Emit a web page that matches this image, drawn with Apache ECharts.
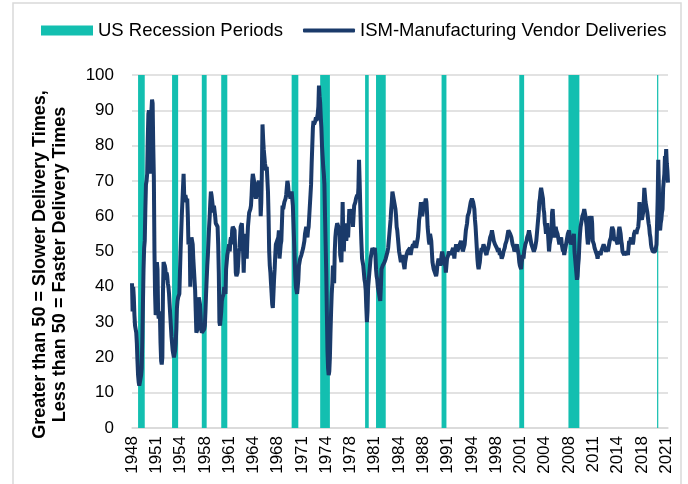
<!DOCTYPE html>
<html>
<head>
<meta charset="utf-8">
<script src="https://cdn.jsdelivr.net/npm/echarts@6/dist/echarts.min.js"></script>
<style>
  html, body { margin: 0; padding: 0; background: #fff; }
  #chart { width: 688px; height: 484px; }
</style>
</head>
<body>
<div id="chart"></div>
<script>
// ISM manufacturing supplier (vendor) deliveries index, monthly from Jan 1948
var startYear = 1948;

var ism1948to1959 = [
  41, 33, 40, 37, 32, 29, 28, 27, 24, 19, 15, 13,
  12, 12.5, 14, 15, 17, 25, 35, 45, 51, 53, 62, 69,
  70, 72, 82, 89, 90, 88, 72, 85, 90, 93, 92, 80,
  71, 50, 38, 32, 33, 47, 45, 33, 31, 33, 32, 24,
  19, 18, 20, 38, 47, 47, 46, 45, 42, 44, 43, 41,
  40, 38, 35, 32, 29, 26, 24, 22, 21, 20, 20, 22,
  24, 28, 34, 36, 37, 37, 38, 44, 50, 55, 60, 64,
  68, 72, 66, 64, 66, 65, 64, 65, 60, 52, 53, 54,
  40, 52, 54, 53, 52, 48, 45, 42, 39, 33, 27, 27,
  28, 30, 37, 36, 35, 32, 28, 27, 27, 27, 27, 28,
  29, 33, 38, 42, 46, 49, 53, 57, 60, 64, 67, 66,
  66, 63, 61, 63, 63, 60, 58, 58, 58, 57, 52, 44
];
var ism1960s = [
  30, 29, 29, 33, 36, 37, 37, 38, 40, 40, 38, 45,
  47, 49, 50, 51, 52, 50, 53, 54, 52, 56, 57, 57,
  57, 56, 50, 44, 43, 43, 44, 47, 50, 51, 54, 57,
  57, 58, 58, 50, 44, 50, 54, 55, 52, 48, 53, 57,
  59, 61, 61, 62, 63, 66, 70, 72, 71, 70, 68, 66,
  65, 65, 67, 69, 69, 70, 70, 68, 60, 64, 73, 86,
  82, 79, 77, 75, 74, 73, 74, 74, 67, 60, 50, 46,
  44, 41, 38, 35, 34, 38, 42, 45, 49, 52, 52, 53,
  53, 54, 56, 48, 50, 52, 53, 58, 63, 62, 63, 64,
  64, 65, 66, 68, 70, 69, 67, 67, 66, 65, 65, 67
];
var ism1970s = [
  67, 63, 58, 53, 48, 43, 40, 39, 38, 38, 42, 46,
  47, 48, 48, 49, 49, 49, 51, 52, 53, 55, 56, 57,
  55, 54, 56, 57, 60, 63, 66, 69, 75, 80, 85, 87,
  86, 86, 87, 88, 87, 87, 89, 91, 97, 94, 92, 88,
  85, 80, 77, 74, 72, 69, 60, 52, 44, 33, 22, 17,
  15, 16, 20, 27, 33, 38, 41, 46, 44, 41, 50, 54,
  56, 57, 58, 58, 57, 56, 55, 49, 48, 47, 55, 64,
  55, 50, 56, 58, 55, 53, 55, 56, 54, 58, 62, 60,
  60, 61, 62, 60, 57, 60, 63, 63, 64, 65, 65, 66,
  65, 68, 76, 70, 63, 57, 52, 48, 47, 46, 44, 42
];
var ism1980s = [
  41, 39, 34, 30, 33, 40, 42, 44, 46, 48, 49, 50,
  51, 51, 50, 50, 51, 49, 45, 43, 42, 40, 39, 38,
  37, 36, 40, 45, 45, 46, 46, 46, 47, 47, 48, 48,
  48, 50, 51, 53, 55, 57, 59, 62, 64, 67, 66, 65,
  64, 64, 62, 60, 57, 56, 56, 52, 50, 49, 48, 47,
  48, 49, 48, 47, 46, 45, 47, 48, 49, 49, 50, 50,
  50, 50, 51, 49, 50, 51, 51, 52, 51, 52, 53, 52,
  51, 52, 53, 54, 56, 59, 60, 62, 64, 62, 60, 61,
  63, 64, 63, 64, 65, 64, 61, 57, 55, 53, 52, 55,
  54, 53, 50, 47, 46, 45, 45, 44, 44, 43, 44, 46
];
var ism1990s = [
  47, 48, 48, 47, 46, 47, 49, 50, 50, 48, 47, 47,
  46, 44, 46, 48, 48, 49, 50, 50, 49, 50, 49, 50,
  50, 51, 50, 48, 50, 51, 52, 51, 50, 50, 51, 51,
  52, 52, 53, 52, 51, 50, 50, 50, 52, 54, 56, 57,
  58, 60, 60, 61, 62, 63, 64, 64, 65, 65, 64, 63,
  62, 59, 57, 54, 51, 48, 46, 45, 46, 47, 49, 50,
  51, 50, 51, 52, 52, 51, 50, 50, 49, 50, 50, 51,
  52, 53, 54, 54, 55, 56, 55, 54, 53, 53, 52, 52,
  52, 51, 51, 50, 51, 50, 49, 50, 49, 48, 48, 49,
  50, 50, 51, 52, 52, 53, 54, 55, 56, 56, 56, 55
];
var ism2000s = [
  55, 54, 53, 52, 52, 51, 50, 50, 51, 51, 52, 52,
  50, 49, 47, 46, 46, 45, 47, 47, 49, 48, 50, 51,
  52, 52, 53, 54, 54, 55, 56, 55, 54, 53, 52, 52,
  51, 51, 50, 50, 51, 52, 53, 55, 57, 59, 61, 64,
  65, 67, 68, 67, 66, 65, 62, 61, 58, 57, 55, 57,
  58, 56, 53, 50, 52, 53, 54, 55, 61, 62, 59, 56,
  54, 55, 57, 56, 56, 55, 54, 53, 52, 53, 53, 54,
  52, 51, 50, 51, 49, 50, 51, 52, 53, 54, 55, 55,
  56, 54, 53, 52, 53, 53, 52, 54, 55, 50, 48, 46,
  44, 42, 43, 46, 48, 52, 55, 57, 58, 59, 60, 60
];
var ism2010s = [
  61, 62, 61, 60, 60, 57, 54, 52, 53, 56, 60, 58,
  59, 60, 58, 53, 53, 52, 51, 51, 50, 50, 49, 48,
  49, 50, 50, 50, 49, 50, 50, 51, 51, 52, 52, 51,
  51, 50, 50, 51, 50, 51, 52, 53, 53, 54, 56, 57,
  57, 56, 54, 53, 54, 54, 53, 53, 52, 54, 56, 57,
  56, 55, 53, 52, 50, 50, 50, 49, 50, 50, 50, 49,
  50, 49, 51, 53, 52, 53, 54, 52, 53, 52, 53, 55,
  55, 56, 56, 55, 56, 56, 57, 59, 64, 61, 60, 60,
  59, 59, 61, 64, 68, 66, 64, 63, 62, 61, 61, 58,
  57, 55, 54, 52, 51, 51, 50, 50, 50, 50, 50, 51
];
var ism2020s = [
  52, 58, 65, 76, 68, 57, 56, 58, 59, 61, 62, 68,
  68, 72, 77, 75, 79, 75, 73, 69.5
];

var recessions = [
  ['1948-11', '1949-10'],
  ['1953-07', '1954-05'],
  ['1957-08', '1958-04'],
  ['1960-04', '1961-02'],
  ['1969-12', '1970-11'],
  ['1973-11', '1975-03'],
  ['1980-01', '1980-07'],
  ['1981-07', '1982-11'],
  ['1990-07', '1991-03'],
  ['2001-03', '2001-11'],
  ['2007-12', '2009-06'],
  ['2020-02', '2020-04']
];

var yTicks = [0, 100, 10]; // min, max, step

var vendorDeliveries = [].concat(ism1948to1959, ism1960s, ism1970s,
  ism1980s, ism1990s, ism2000s, ism2010s, ism2020s);

var months = vendorDeliveries.map(function (v, i) {
  var y = startYear + Math.floor(i / 12);
  var m = (i % 12) + 1;
  return y + '-' + (m < 10 ? '0' + m : m);
});

var teal = '#13bfb0';
var navy = '#1a3a6a';
var font = 'Liberation Sans, Arial, sans-serif';
var legendText = { fontFamily: font, fontSize: 18.5, color: '#000' };

var chart = echarts.init(document.getElementById('chart'));

chart.setOption({
  animation: false,
  textStyle: { fontFamily: font, color: '#000' },
  graphic: [{
    type: 'rect',
    shape: { x: 13, y: 3, width: 668, height: 520 },
    style: { fill: 'none', stroke: '#d9d9d9', lineWidth: 1.5 },
    silent: true
  }],
  // two legends so each key can have its own icon height
  legend: [
    {
      left: 41,
      top: 21,
      padding: 0,
      itemWidth: 52,
      itemHeight: 10,
      textStyle: legendText,
      data: [{ name: 'US Recession Periods', icon: 'rect' }]
    },
    {
      left: 303,
      top: 21,
      padding: 0,
      itemWidth: 52,
      itemHeight: 4,
      textStyle: legendText,
      data: [{ name: 'ISM-Manufacturing Vendor Deliveries', icon: 'roundRect' }]
    }
  ],
  grid: { left: 132, right: 20, top: 75, bottom: 56, containLabel: false },
  xAxis: {
    type: 'category',
    data: months,
    boundaryGap: false,
    axisLine: { show: true, lineStyle: { color: '#d9d9d9', width: 1.5 } },
    axisTick: { show: false },
    axisLabel: {
      interval: 39,
      rotate: 90,
      margin: 8,
      fontSize: 17,
      color: '#000',
      fontFamily: font,
      formatter: function (v) { return v.slice(0, 4); }
    },
    splitLine: { show: false }
  },
  yAxis: {
    type: 'value',
    min: yTicks[0],
    max: yTicks[1],
    interval: yTicks[2],
    axisLine: { show: false },
    axisTick: { show: false },
    axisLabel: { fontSize: 17, color: '#000', margin: 18, fontFamily: font },
    splitLine: { lineStyle: { color: '#d9d9d9', width: 1.5 } },
    name: 'Greater than 50 = Slower Delivery Times,\nLess than 50 = Faster Delivery Times',
    nameLocation: 'middle',
    nameRotate: 90,
    nameGap: 62,
    nameTextStyle: {
      fontFamily: font,
      fontSize: 18,
      fontWeight: 'bold',
      lineHeight: 20,
      color: '#000',
      padding: [0, 26, 0, 0]
    }
  },
  series: [
    {
      name: 'US Recession Periods',
      type: 'bar',
      data: [],
      itemStyle: { color: teal }
    },
    {
      name: 'ISM-Manufacturing Vendor Deliveries',
      type: 'line',
      data: vendorDeliveries,
      symbol: 'none',
      lineStyle: { color: navy, width: 4 },
      itemStyle: { color: navy },
      z: 3,
      markArea: {
        silent: true,
        itemStyle: { color: teal, opacity: 1 },
        data: recessions.map(function (r) {
          return [{ xAxis: r[0] }, { xAxis: r[1] }];
        })
      }
    }
  ]
});
</script>
</body>
</html>
